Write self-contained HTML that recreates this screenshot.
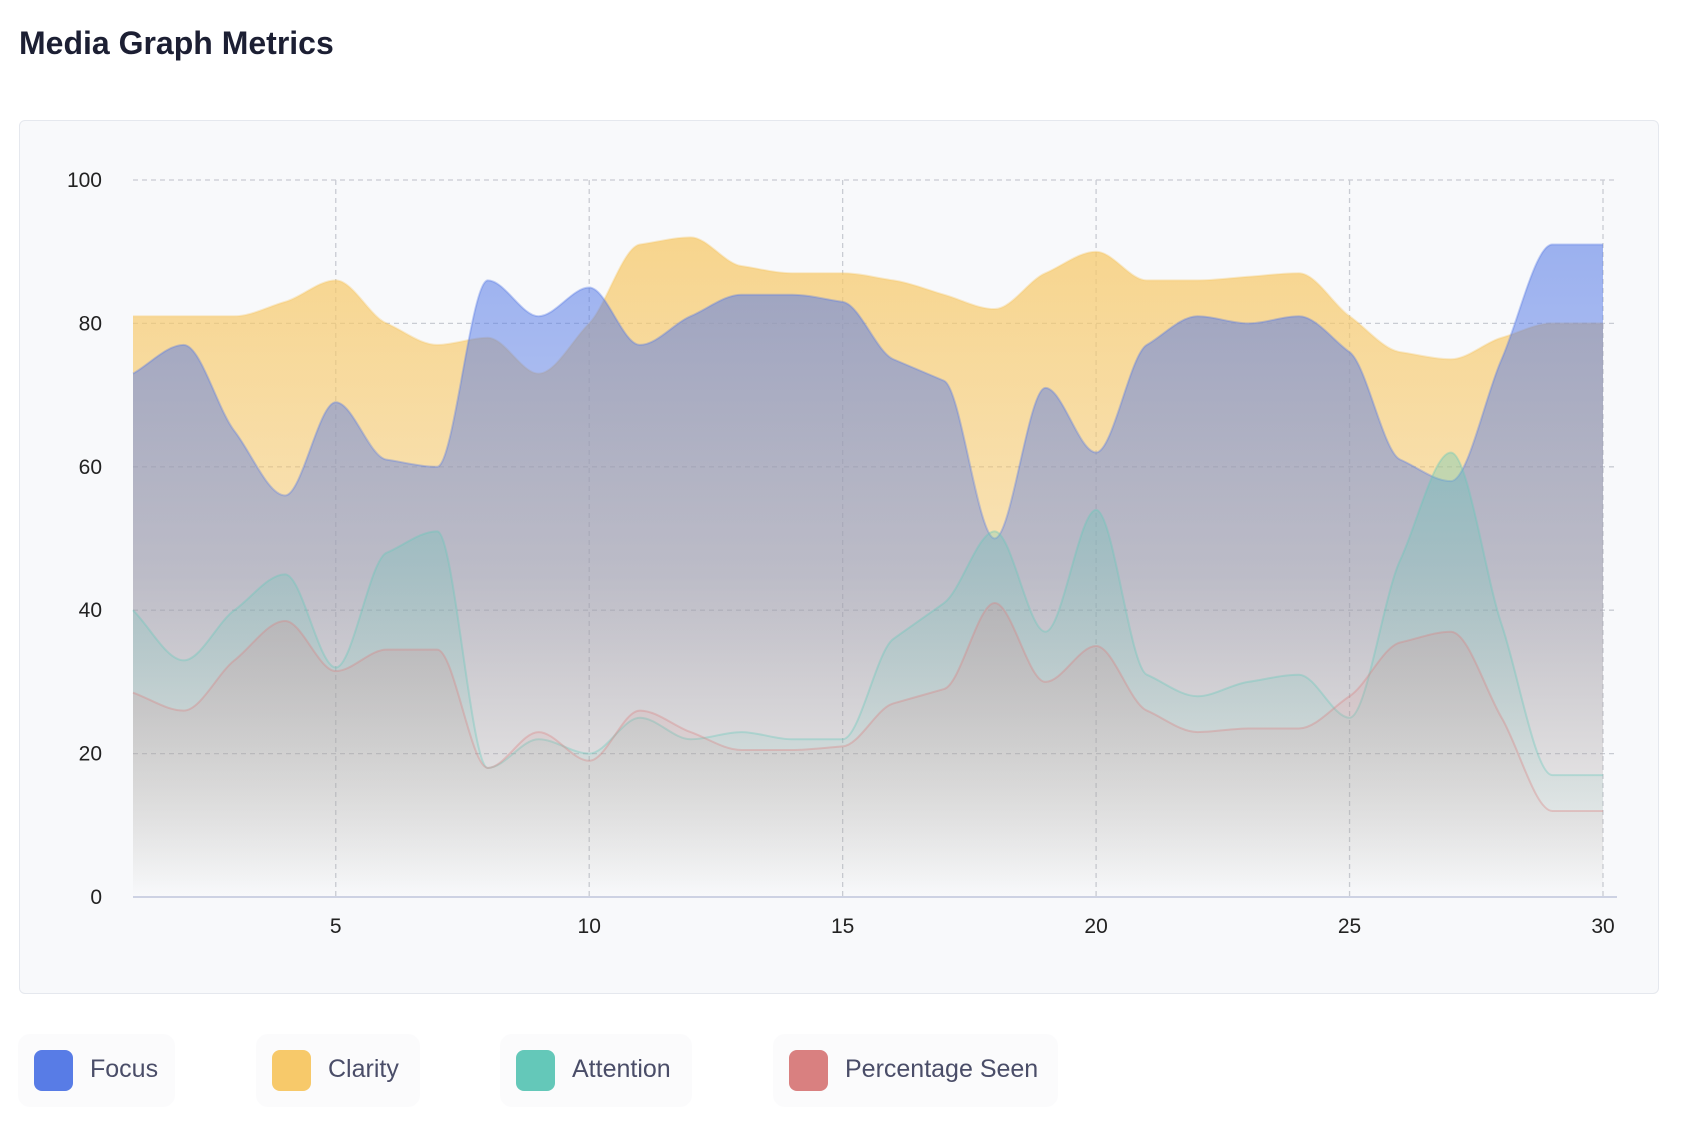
<!DOCTYPE html>
<html><head><meta charset="utf-8"><style>
body{margin:0;background:#fff;width:1682px;height:1124px;overflow:hidden;font-family:"Liberation Sans",sans-serif}
h1{position:absolute;left:19px;top:25px;margin:0;font-size:32px;font-weight:bold;color:#1c1f33}
#card{position:absolute;left:19px;top:120px;width:1638px;height:872px;background:#f8f9fb;border:1px solid #e5e8ee;border-radius:6px}
.lg{position:absolute;top:1034px;height:73px;background:#fbfbfc;border-radius:12px}
.sw{position:absolute;left:16px;top:16px;width:39px;height:41px;border-radius:8px}
.lt{position:absolute;left:72px;top:21px;font-size:25px;color:#4a4d68}
</style></head><body>
<h1>Media Graph Metrics</h1>
<div id="card"></div>
<svg id="chart" width="1682" height="1124" style="position:absolute;left:0;top:0"></svg>
<div class="lg" style="left:18px;width:157px"><div class="sw" style="background:#587ce6"></div><div class="lt">Focus</div></div>
<div class="lg" style="left:256px;width:164px"><div class="sw" style="background:#f7c96a"></div><div class="lt">Clarity</div></div>
<div class="lg" style="left:500px;width:192px"><div class="sw" style="background:#64c8b9"></div><div class="lt">Attention</div></div>
<div class="lg" style="left:773px;width:285px"><div class="sw" style="background:#d98080"></div><div class="lt">Percentage Seen</div></div>
<script>
const days=[1,2,3,4,5,6,7,8,9,10,11,12,13,14,15,16,17,18,19,20,21,22,23,24,25,26,27,28,29,30];
const clarity=[81,81,81,83,86,80,77,78,73,80,91,92,88,87,87,86,84,82,87,90,86,86,86.5,87,81,76,75,78,80,80];
const focus=[73,77,65,56,69,61,60,86,81,85,77,81,84,84,83,75,72,50,71,62,77,81,80,81,76,61,58,75,91,91];
const attention=[40,33,40,45,32,48,51,18,22,20,25,22,23,22,22,36,41,51,37,54,31,28,30,31,25,47,62,38,17,17];
const seen=[28.5,26,33,38.5,31.5,34.5,34.5,18,23,19,26,23,20.5,20.5,21,27,29,41,30,35,26,23,23.5,23.5,28,35.5,37,25,12,12];
const yTicks=[0,20,40,60,80,100];
const xTicks=[5,10,15,20,25,30];
const NS='http://www.w3.org/2000/svg';
const svg=document.getElementById('chart');
const L=133,R=1603,T=180,B=897;
const x=v=>L+(v-1)/(29)*(R-L);
const y=v=>B-v/100*(B-T);
function mk(t,a){const e=document.createElementNS(NS,t);for(const k in a)e.setAttribute(k,a[k]);svg.appendChild(e);return e;}
const defs=mk('defs',{});
const cols={focus:'#587ce6',clarity:'#f7c96a',attention:'#64c8b9',seen:'#d98080'};
const ops={focus:0.62,clarity:0.8,attention:0.7,seen:0.65};
for(const k in cols){const g=document.createElementNS(NS,'linearGradient');g.setAttribute('id','g'+k);g.setAttribute('x1',0);g.setAttribute('x2',0);g.setAttribute('gradientUnits','userSpaceOnUse');g.setAttribute('y1',T);g.setAttribute('y2',B);
 const mid=(k==='seen'||k==='attention')?0.35:0.6;
 g.innerHTML=`<stop offset="0" stop-color="${cols[k]}" stop-opacity="${ops[k]}"/><stop offset="0.55" stop-color="${cols[k]}" stop-opacity="${ops[k]*mid}"/><stop offset="1" stop-color="${cols[k]}" stop-opacity="0"/>`;defs.appendChild(g);}
yTicks.forEach(t=>{
 const l=mk('line',{x1:L,x2:R+14,y1:y(t),y2:y(t),stroke:t===0?'#cdd2e3':'#c9ccd3','stroke-width':t===0?2:1.3,'stroke-dasharray':t===0?'':'5 4'});
 
 const tx=mk('text',{x:102,y:y(t)+7,'text-anchor':'end','font-size':21,fill:'#222'});tx.textContent=t;
 
});
xTicks.forEach(t=>{
 const l=mk('line',{x1:x(t),x2:x(t),y1:T,y2:B,stroke:'#c9ccd3','stroke-width':1.3,'stroke-dasharray':'5 4'});
 
 const tx=mk('text',{x:x(t),y:B+36,'text-anchor':'middle','font-size':21,fill:'#222'});tx.textContent=t;
 
});
function path(vals){
 const p=vals.map((v,i)=>[x(days[i]),y(v)]);
 const n=p.length,s=[],m=[];
 for(let i=0;i<n-1;i++)s.push((p[i+1][1]-p[i][1])/(p[i+1][0]-p[i][0]));
 for(let i=0;i<n;i++){
  if(i===0)m.push(s[0]);else if(i===n-1)m.push(s[n-2]);
  else m.push(s[i-1]*s[i]<=0?0:(Math.sign(s[i])*Math.min(Math.abs(s[i-1]),Math.abs(s[i]),Math.abs((s[i-1]+s[i])/2))));
 }
 let d='M'+p[0][0]+','+p[0][1];
 for(let i=0;i<n-1;i++){
  const h=(p[i+1][0]-p[i][0])/3;
  d+=`C${p[i][0]+h},${p[i][1]+m[i]*h} ${p[i+1][0]-h},${p[i+1][1]-m[i+1]*h} ${p[i+1][0]},${p[i+1][1]}`;
 }
 return d;
}
[['clarity',clarity],['focus',focus],['attention',attention],['seen',seen]].forEach(([k,v])=>{
 const d=path(v);
 const a=mk('path',{d:d+`L${x(30)},${B}L${x(1)},${B}Z`,fill:`url(#g${k})`});
 
 const s=mk('path',{d:d,fill:'none',stroke:cols[k],'stroke-opacity':0.35,'stroke-width':2});
 
});
</script>
</body></html>
